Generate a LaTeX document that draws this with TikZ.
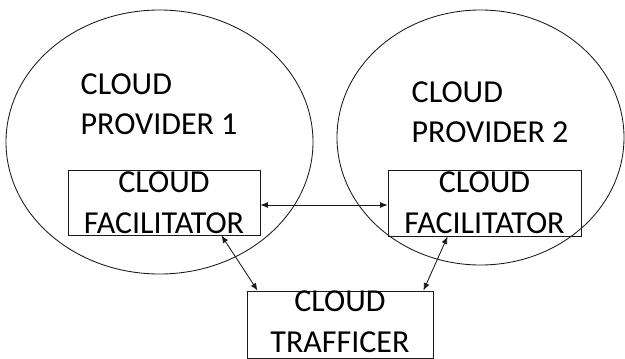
\documentclass[tikz,border=0pt]{standalone}
\usepackage{fontspec}
\setmainfont{Carlito}
\usetikzlibrary{shapes.geometric,arrows.meta,calc}

\tikzset{
  line/.style={draw=black!90, line width=0.85pt},
  provider/.style={line, ellipse, inner sep=0pt},
  heading/.style={inner sep=0pt, anchor=north west, align=left,
    font=\fontsize{32}{40.5}\selectfont},
  agent/.style={line, rectangle, inner sep=0pt, align=center,
    font=\fontsize{32}{41}\selectfont},
  link/.style={line, {Latex[length=7.5pt,width=6pt]}-{Latex[length=7.5pt,width=6pt]}}
}

\begin{document}
\begin{tikzpicture}[x=1pt, y=-1pt]
  \useasboundingbox (0,0) rectangle (625,359);

  % the two provider clouds
  \node[provider, minimum width=307pt, minimum height=264pt] (p1) at (159.5,142) {};
  \node[provider, minimum width=287pt, minimum height=255pt] (p2) at (480.5,137.5) {};

  % provider titles
  \node[heading] (t1) at (80.5,73.5) {CLOUD\\PROVIDER 1};
  \node[heading] (t2) at (411.5,81.5) {CLOUD\\PROVIDER 2};

  % facilitators and the trafficer
  \node[agent, minimum width=192pt, minimum height=65pt] (f1) at (164,202.5) {CLOUD\\FACILITATOR};
  \node[agent, minimum width=193pt, minimum height=66pt] (f2) at (484.5,203) {CLOUD\\FACILITATOR};
  \node[agent, minimum width=186pt, minimum height=67pt, text depth=5pt] (tr) at (340,324.5) {CLOUD\\TRAFFICER};

  % links between the parties
  \draw[link] ($(f1.east)+(0,2.5)$) -- ($(f2.west)+(0,2)$);
  \draw[link] ($(f1.south east)+(-39,0)$) -- ($(tr.north west)+(11,0)$);
  \draw[link] ($(f2.south west)+(60,0)$) -- ($(tr.north east)+(-10,0)$);
\end{tikzpicture}
\end{document}
